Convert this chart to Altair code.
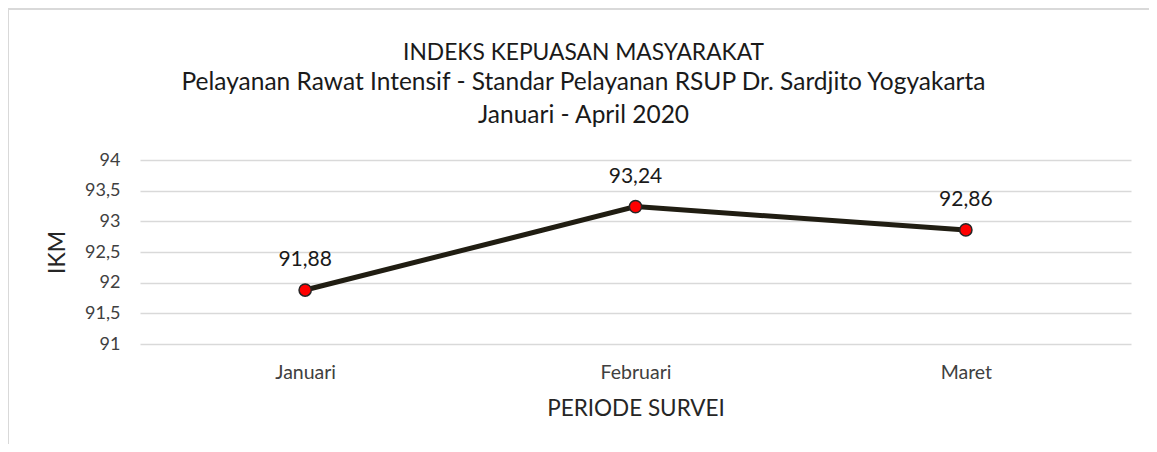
import altair as alt
import pandas as pd

periods = ["Januari", "Februari", "Maret"]
ikm_values = [91.88, 93.24, 92.86]

df = pd.DataFrame({"periode": periods, "ikm": ikm_values})
df["label"] = [f"{v:.2f}".replace(".", ",") for v in ikm_values]

FONT = "Lato"

base = alt.Chart(df).encode(
    x=alt.X("periode:N", sort=periods, title="PERIODE SURVEI",
            scale=alt.Scale(paddingInner=0, paddingOuter=0),
            axis=alt.Axis(labelAngle=0, labelFontSize=19.5, labelColor="#404040",
                          labelFont=FONT, titleFont=FONT, titleFontSize=22.5,
                          titleFontWeight="normal", titleColor="#262626",
                          titlePadding=16, labelPadding=19, ticks=False,
                          domain=False, grid=False)),
    y=alt.Y("ikm:Q", title="IKM",
            scale=alt.Scale(domain=[91, 94], nice=False, zero=False),
            axis=alt.Axis(values=[91, 91.5, 92, 92.5, 93, 93.5, 94],
                          labelExpr="replace(toString(datum.value), '.', ',')",
                          labelFontSize=18, labelColor="#404040", labelFont=FONT,
                          labelPadding=20, ticks=False, domain=False,
                          gridColor="#d9d9d9", gridWidth=1.5,
                          titleFont=FONT, titleFontSize=23, titleFontWeight="normal",
                          titleColor="#262626", titleX=-83, titleY=92,
                          titleBaseline="middle")),
)

line = base.mark_line(color="#201d12", strokeWidth=5)
points = base.mark_point(filled=True, fill="#ff0000", stroke="#262626",
                         strokeWidth=1.5, size=150, opacity=1)
labels = base.mark_text(dy=-30, fontSize=21, font=FONT, color="#1a1a1a").encode(
    text="label:N")

frame_top = alt.Chart(df).mark_rule(color="#d9d9d9", strokeWidth=2).encode(
    x=alt.value(-132), x2=alt.value(1020), y=alt.value(-151))
frame_left = alt.Chart(df).mark_rule(color="#d9d9d9", strokeWidth=2).encode(
    x=alt.value(-132), y=alt.value(-151), y2=alt.value(290))

chart = alt.layer(frame_top, frame_left, line, points, labels).properties(
    width=991, height=184,
    padding={"left": 132, "top": 152, "right": 18, "bottom": 100},
    autosize=alt.AutoSizeParams(type="none"),
    title=alt.TitleParams(
        text="INDEKS KEPUASAN MASYARAKAT",
        subtitle=["Pelayanan Rawat Intensif - Standar Pelayanan RSUP Dr. Sardjito Yogyakarta",
                  "Januari - April 2020"],
        font=FONT, fontSize=22.8, fontWeight="normal", color="#1a1a1a",
        subtitleFont=FONT, subtitleFontSize=24.5, subtitleColor="#1a1a1a",
        subtitleLineHeight=33, subtitlePadding=6,
        anchor="middle", frame="group", dx=-52, offset=-119),
).configure_view(stroke=None)

chart.save("out.html", embed_options={"renderer": "svg", "actions": False})
